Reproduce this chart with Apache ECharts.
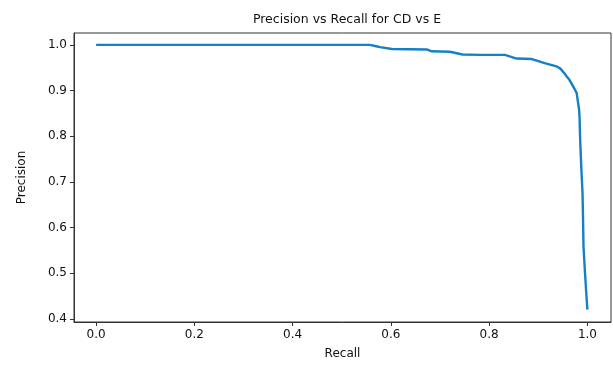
<!DOCTYPE html>
<html>
<head>
<meta charset="utf-8">
<script src="https://cdn.jsdelivr.net/npm/echarts@6/dist/echarts.min.js"></script>
<style>html,body{margin:0;padding:0;background:#fff;}#c{width:613px;height:365px;}</style>
</head>
<body>
<div id="c"></div>
<script>
const recall = [0, 0.557, 0.57, 0.578, 0.602, 0.673, 0.683, 0.72, 0.746, 0.781, 0.832, 0.856, 0.887, 0.913, 0.937, 0.945, 0.953, 0.957, 0.963, 0.969, 0.978, 0.983, 0.984, 0.985, 0.986, 0.988, 0.990, 0.991, 0.992, 0.995, 0.998, 1.0];
const precision = [1.0, 1.0, 0.997, 0.995, 0.991, 0.990, 0.986, 0.985, 0.979, 0.978, 0.978, 0.970, 0.969, 0.960, 0.953, 0.948, 0.938, 0.932, 0.924, 0.913, 0.895, 0.858, 0.841, 0.80, 0.771, 0.721, 0.677, 0.625, 0.559, 0.502, 0.45, 0.42];
const xTicks = [0.0, 0.2, 0.4, 0.6, 0.8, 1.0];
const yTicks = [0.4, 0.5, 0.6, 0.7, 0.8, 0.9, 1.0];
const titleText = 'Precision vs Recall for CD vs E';
const xName = 'Recall';
const yName = 'Precision';

const FONT = 'DejaVu Sans';
const TXT = '#111';
const chart = echarts.init(document.getElementById('c'), null, {renderer: 'canvas'});
const axisCommon = {
  type: 'value',
  splitLine: {show: false},
  axisLine: {show: true, onZero: false, lineStyle: {color: '#333', width: 1}},
  nameTextStyle: {fontFamily: FONT, fontSize: 12, color: TXT},
};
chart.setOption({
  animation: false,
  title: {
    text: titleText, left: 342, top: 8, textAlign: 'center',
    textStyle: {fontFamily: FONT, fontSize: 12.5, fontWeight: 'normal', color: TXT}
  },
  grid: {left: 74, top: 33, width: 537, height: 290.5, show: true, borderColor: '#333', borderWidth: 1, backgroundColor: '#fff'},
  xAxis: Object.assign({}, axisCommon, {
    min: -0.045, max: 1.048,
    name: xName, nameLocation: 'middle', nameGap: 26,
    axisTick: {show: true, length: 4, inside: false, customValues: xTicks, lineStyle: {color: '#333'}},
    axisLabel: {customValues: xTicks, formatter: v => v.toFixed(1), fontFamily: FONT, fontSize: 12, color: TXT, margin: 7}
  }),
  yAxis: Object.assign({}, axisCommon, {
    min: 0.393, max: 1.026,
    name: yName, nameLocation: 'middle', nameGap: 46, nameRotate: 90,
    axisTick: {show: true, length: 4, inside: false, customValues: yTicks, lineStyle: {color: '#333'}},
    axisLabel: {customValues: yTicks, formatter: v => v.toFixed(1), fontFamily: FONT, fontSize: 12, color: TXT, margin: 7}
  }),
  series: [{
    type: 'line',
    data: recall.map((r, i) => [r, precision[i]]),
    showSymbol: false,
    lineStyle: {color: '#1580c4', width: 2.4},
    itemStyle: {color: '#1580c4'}
  }]
});
</script>
</body>
</html>
